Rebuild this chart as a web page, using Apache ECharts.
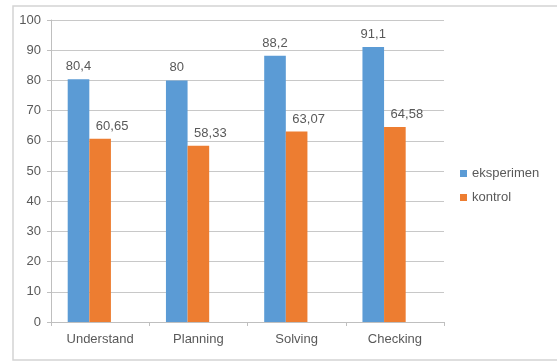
<!DOCTYPE html>
<html>
<head>
<meta charset="utf-8">
<script src="https://cdn.jsdelivr.net/npm/echarts@6/dist/echarts.min.js"></script>
<style>
  html, body { margin: 0; padding: 0; background: #fff; }
  #chart { width: 557px; height: 362px; }
</style>
</head>
<body>
<div id="chart"></div>
<script>
const categories = ['Understand', 'Planning', 'Solving', 'Checking'];
const eksperimen = [80.4, 80, 88.2, 91.1];
const kontrol = [60.65, 58.33, 63.07, 64.58];
const yTicks = { min: 0, max: 100, interval: 10 };

const textColor = '#595959';
const fontFamily = 'Liberation Sans, Arial, sans-serif';

// comma as decimal separator, like the original
const commaLabel = (p) => String(p.value).replace('.', ',');

const barLabel = (offsetX) => ({
  show: true,
  position: 'top',
  distance: 6,
  offset: [offsetX, 0],
  color: textColor,
  fontSize: 13,
  fontFamily,
  formatter: commaLabel
});

const chart = echarts.init(document.getElementById('chart'));
chart.setOption({
  animation: false,
  color: ['#5B9BD5', '#ED7D31'],
  textStyle: { fontFamily, color: textColor },
  graphic: [{
    type: 'rect',
    shape: { x: 13, y: 6, width: 560, height: 354 },
    style: { fill: 'none', stroke: '#d4d4d4', lineWidth: 1.5 },
    silent: true
  }],
  grid: { left: 51, right: 113, top: 20, bottom: 40 },
  legend: {
    orient: 'vertical',
    left: 455,
    top: 162,
    itemWidth: 7,
    itemHeight: 7,
    itemGap: 11,
    icon: 'rect',
    data: ['eksperimen', 'kontrol'],
    textStyle: { color: textColor, fontSize: 13, fontFamily }
  },
  xAxis: {
    type: 'category',
    data: categories,
    axisLine: { lineStyle: { color: '#bfbfbf' } },
    axisTick: { show: true, length: 4, lineStyle: { color: '#bfbfbf' } },
    axisLabel: { color: textColor, fontSize: 13, margin: 11 }
  },
  yAxis: {
    type: 'value',
    min: yTicks.min,
    max: yTicks.max,
    interval: yTicks.interval,
    axisLine: { show: true, lineStyle: { color: '#bfbfbf' } },
    axisTick: { show: true, length: 4, lineStyle: { color: '#bfbfbf' } },
    axisLabel: { color: textColor, fontSize: 13, margin: 10 },
    splitLine: { lineStyle: { color: '#c8c8c8' } }
  },
  series: [
    { name: 'eksperimen', type: 'bar', data: eksperimen, barGap: '0%', barCategoryGap: '34%', label: barLabel(0) },
    { name: 'kontrol', type: 'bar', data: kontrol, label: barLabel(12) },
    // empty third slot: the original leaves room for it, so bars sit left of centre
    { name: 'spacer', type: 'bar', data: categories.map(() => null), silent: true }
  ]
});
</script>
</body>
</html>
